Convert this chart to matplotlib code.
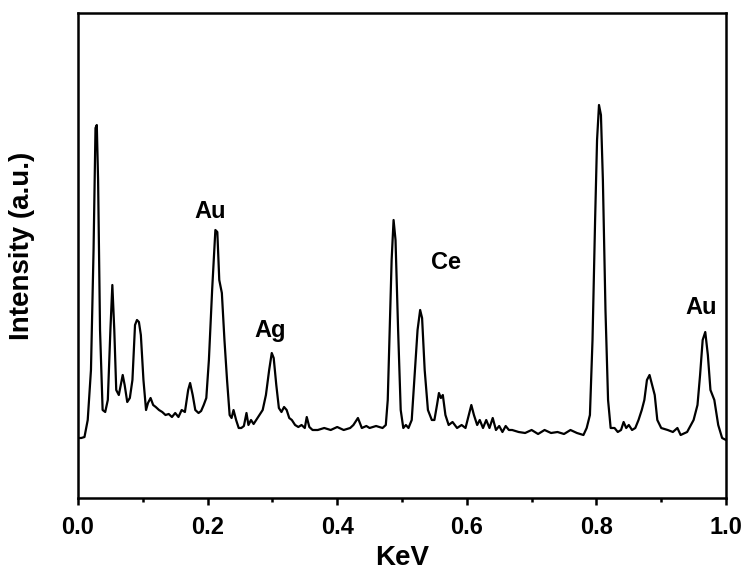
import matplotlib
matplotlib.use("Agg")
import matplotlib.pyplot as plt
from matplotlib.ticker import MultipleLocator

plt.rcParams['font.family'] = ['Liberation Sans', 'DejaVu Sans']
plt.rcParams['font.weight'] = 'bold'

# Espectro EDS (energia em keV, intensidade em unidades arbitrárias)
kev = [0.000, 0.005, 0.010, 0.015, 0.020, 0.024, 0.027, 0.029, 0.031, 0.034,
       0.038, 0.042, 0.046, 0.050, 0.053, 0.056, 0.059, 0.063, 0.066, 0.069,
       0.072, 0.076, 0.080, 0.084, 0.088, 0.091, 0.094, 0.097, 0.101, 0.105,
       0.108, 0.112, 0.116, 0.120, 0.125, 0.130, 0.135, 0.140, 0.145, 0.150,
       0.155, 0.160, 0.165, 0.170, 0.173, 0.177, 0.181, 0.186, 0.190, 0.194,
       0.198, 0.202, 0.207, 0.212, 0.215, 0.218, 0.222, 0.226, 0.230, 0.234,
       0.237, 0.240, 0.244, 0.248, 0.252, 0.256, 0.260, 0.263, 0.267, 0.271,
       0.275, 0.280, 0.285, 0.290, 0.295, 0.299, 0.302, 0.306, 0.310, 0.314,
       0.318, 0.322, 0.326, 0.330, 0.335, 0.340, 0.345, 0.350, 0.353, 0.357,
       0.362, 0.370, 0.380, 0.390, 0.400, 0.410, 0.420, 0.425, 0.432, 0.438,
       0.445, 0.450, 0.460, 0.470, 0.475, 0.478, 0.481, 0.484, 0.487, 0.490,
       0.494, 0.498, 0.502, 0.506, 0.510, 0.515, 0.520, 0.524, 0.528, 0.531,
       0.535, 0.540, 0.546, 0.550, 0.554, 0.557, 0.560, 0.563, 0.567, 0.572,
       0.578, 0.585, 0.592, 0.598, 0.603, 0.607, 0.611, 0.616, 0.620, 0.625,
       0.630, 0.635, 0.640, 0.645, 0.650, 0.655, 0.660, 0.665, 0.670, 0.680,
       0.690, 0.700, 0.710, 0.720, 0.730, 0.740, 0.750, 0.760, 0.770, 0.780,
       0.785, 0.790, 0.794, 0.798, 0.801, 0.804, 0.807, 0.810, 0.814, 0.818,
       0.822, 0.828, 0.833, 0.838, 0.842, 0.846, 0.850, 0.855, 0.860, 0.865,
       0.870, 0.874, 0.878, 0.882, 0.886, 0.890, 0.894, 0.900, 0.910, 0.918,
       0.925, 0.930, 0.940, 0.950, 0.956, 0.960, 0.964, 0.968, 0.972, 0.976,
       0.982, 0.988, 0.994, 1.000]
intensity = [56, 56, 57, 74, 124, 244, 366, 369, 314, 164,
             84, 82, 94, 164, 209, 164, 104, 99, 109, 119,
             109, 92, 96, 114, 169, 174, 172, 159, 114, 84,
             91, 96, 89, 87, 84, 82, 79, 80, 77, 81,
             77, 84, 82, 104, 111, 99, 84, 81, 83, 89,
             96, 134, 204, 264, 262, 214, 201, 154, 114, 79,
             76, 84, 74, 66, 66, 68, 81, 69, 74, 70,
             74, 79, 84, 99, 124, 141, 136, 109, 86, 82,
             87, 84, 76, 74, 69, 67, 69, 66, 77, 67,
             64, 64, 66, 64, 67, 64, 66, 69, 76, 66,
             68, 66, 68, 66, 69, 94, 164, 234, 274, 254,
             164, 84, 66, 69, 66, 74, 124, 164, 184, 176,
             124, 84, 74, 74, 89, 101, 96, 99, 79, 69,
             72, 66, 69, 66, 79, 89, 79, 69, 74, 66,
             74, 66, 76, 64, 68, 62, 68, 64, 64, 62,
             61, 64, 60, 64, 61, 62, 60, 64, 61, 59,
             66, 79, 154, 274, 354, 389, 379, 314, 184, 94,
             66, 66, 62, 64, 72, 66, 69, 64, 66, 74,
             84, 94, 114, 119, 109, 99, 74, 66, 64, 62,
             66, 59, 62, 74, 89, 119, 154, 162, 139, 104,
             94, 69, 56, 54]

# Rótulos dos picos
peak_labels = ["Au", "Ag", "Ce", "Au"]
peak_x = [0.204, 0.297, 0.568, 0.961]
peak_y = [276, 157, 225, 180]

fig = plt.figure(figsize=(7.5, 5.83), dpi=100)
ax = fig.add_axes([0.104, 0.1458, 0.864, 0.8319])

ax.plot(kev, intensity, color="black", linewidth=1.6)

for lab, xx, yy in zip(peak_labels, peak_x, peak_y):
    ax.text(xx, yy, lab, ha="center", va="baseline", fontsize=17, fontweight="bold")

ax.set_xlim(0, 1.0)
ax.set_ylim(-4, 481)
ax.set_yticks([])
ax.xaxis.set_major_locator(MultipleLocator(0.2))
ax.xaxis.set_minor_locator(MultipleLocator(0.1))
ax.tick_params(axis="x", which="major", direction="out", length=5, width=1.8,
               labelsize=17, pad=8)
ax.tick_params(axis="x", which="minor", direction="out", length=3, width=1.8)
for lbl in ax.get_xticklabels():
    lbl.set_fontweight("bold")
for sp in ax.spines.values():
    sp.set_linewidth(1.8)

ax.set_xlabel("KeV", fontsize=20, fontweight="bold", labelpad=4)
ax.set_ylabel("Intensity (a.u.)", fontsize=20, fontweight="bold")
ax.yaxis.set_label_coords(-0.067, 0.52)

fig.savefig("out.png", dpi=100)
